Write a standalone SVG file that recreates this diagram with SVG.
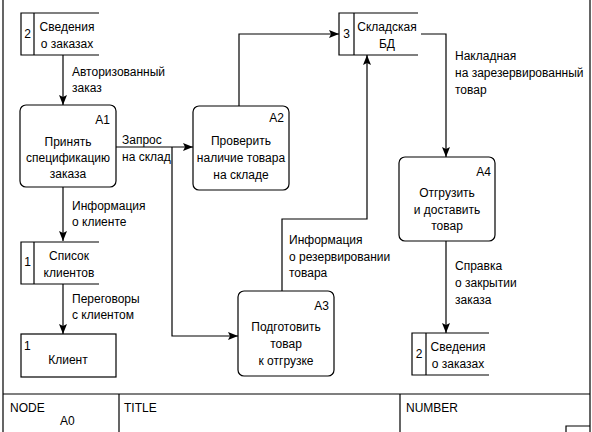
<svg xmlns="http://www.w3.org/2000/svg" width="592" height="432" viewBox="0 0 592 432">
<style>
text{font-family:"Liberation Sans",Arial,sans-serif;font-size:12px;fill:#000}
.c{text-anchor:middle}
.r{text-anchor:end}
.box{fill:#fff;stroke:#000;stroke-width:1.2}
.ln{fill:none;stroke:#000;stroke-width:1.2}
.fl{fill:none;stroke:#000;stroke-width:1.2;marker-end:url(#ah)}
</style>
<defs>
<marker id="ah" viewBox="0 0 10 8" refX="10" refY="4" markerWidth="10" markerHeight="8" markerUnits="userSpaceOnUse" orient="auto">
<path d="M0,0 L10,4 L0,8 L2,4 Z" fill="#000"/>
</marker>
</defs>
<rect width="592" height="432" fill="#fff"/>
<g id="frame">
<path class="ln" d="M3,0 V432 M590,0 V432 M3,394 H590 M119,394 V432 M400,394 V432 M566,432 V426 H590"/>
<text x="10" y="412">NODE</text>
<text x="60" y="425">A0</text>
<text x="124" y="412">TITLE</text>
<text x="406" y="412">NUMBER</text>
</g>
<g id="connectors">
<path class="fl" d="M63,55 V105"/>
<path class="fl" d="M116,147 H193"/>
<path class="fl" d="M172,147 V336 H238"/>
<path class="fl" d="M239,106 V34 H339"/>
<path class="fl" d="M282,291 V219 H367 V55"/>
<path class="fl" d="M421,34 H446 V157"/>
<path class="fl" d="M446,241 V333"/>
<path class="fl" d="M63,187 V241"/>
<path class="fl" d="M63,284 V334"/>
<text x="72" y="76">Авторизованный</text>
<text x="72" y="92">заказ</text>
<text x="122" y="144">Запрос</text>
<text x="122" y="161">на склад</text>
<text x="72" y="210">Информация</text>
<text x="72" y="226">о клиенте</text>
<text x="72" y="303">Переговоры</text>
<text x="72" y="319">с клиентом</text>
<text x="289" y="244">Информация</text>
<text x="289" y="261">о резервировании</text>
<text x="289" y="277">товара</text>
<text x="455" y="60">Накладная</text>
<text x="455" y="77">на зарезервированный</text>
<text x="455" y="94">товар</text>
<text x="455" y="270">Справка</text>
<text x="455" y="287">о закрытии</text>
<text x="455" y="304">заказа</text>
</g>
<g id="store-orders-in">
<path class="ln" d="M99,13 H21 V55 H99 M34,13 V55"/>
<text x="27.5" y="38" class="c">2</text>
<text x="67" y="31" class="c">Сведения</text>
<text x="67" y="48" class="c">о заказах</text>
</g>
<g id="A1">
<rect class="box" x="20" y="105" width="96" height="82" rx="6"/>
<text x="110" y="124" class="r">A1</text>
<text x="68" y="146" class="c">Принять</text>
<text x="68" y="162" class="c">спецификацию</text>
<text x="68" y="178" class="c">заказа</text>
</g>
<g id="A2">
<rect class="box" x="193" y="106" width="96" height="84" rx="6"/>
<text x="284" y="122" class="r">A2</text>
<text x="241" y="145" class="c">Проверить</text>
<text x="241" y="162" class="c">наличие товара</text>
<text x="241" y="179" class="c">на складе</text>
</g>
<g id="store-warehouse">
<path class="ln" d="M418,13 H339 V55 H418 M354,13 V55"/>
<text x="346.5" y="38" class="c">3</text>
<text x="387" y="31" class="c">Складская</text>
<text x="387" y="48" class="c">БД</text>
</g>
<g id="A3">
<rect class="box" x="238" y="291" width="96" height="85" rx="6"/>
<text x="329" y="310" class="r">A3</text>
<text x="286" y="331" class="c">Подготовить</text>
<text x="286" y="348" class="c">товар</text>
<text x="286" y="365" class="c">к отгрузке</text>
</g>
<g id="A4">
<rect class="box" x="399" y="157" width="96" height="84" rx="6"/>
<text x="491" y="176" class="r">A4</text>
<text x="447" y="197" class="c">Отгрузить</text>
<text x="447" y="214" class="c">и доставить</text>
<text x="447" y="230" class="c">товар</text>
</g>
<g id="store-clients">
<path class="ln" d="M99,242 H21 V284 H99 M34,242 V284"/>
<text x="27.5" y="266" class="c">1</text>
<text x="69" y="260" class="c">Список</text>
<text x="69" y="277" class="c">клиентов</text>
</g>
<g id="client">
<rect class="box" x="21" y="334" width="95" height="43"/>
<text x="24" y="350">1</text>
<text x="68" y="364" class="c">Клиент</text>
</g>
<g id="store-orders-out">
<path class="ln" d="M489,333 H412 V375 H489 M426,333 V375"/>
<text x="419" y="358" class="c">2</text>
<text x="458" y="351" class="c">Сведения</text>
<text x="458" y="368" class="c">о заказах</text>
</g>
</svg>
